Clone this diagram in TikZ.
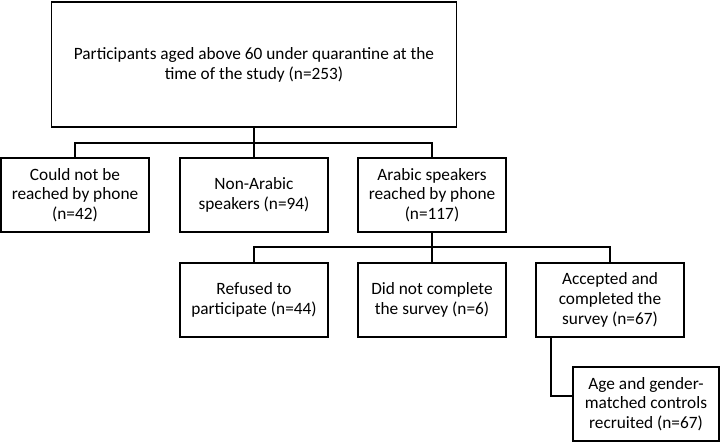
\documentclass[tikz,border=0pt]{standalone}
\usepackage{fontspec}
\setmainfont{Carlito}
\begin{document}
\begin{tikzpicture}[x=1pt,y=-1pt,
    box/.style={draw, line width=1.5pt, align=center, inner sep=0pt,
      minimum width=148pt, minimum height=74pt,
      font=\fontsize{17.3}{19.8}\selectfont},
    link/.style={draw, line width=1.5pt}]
  \useasboundingbox (0,0) rectangle (722,443);
  % boxes
  \node[box, minimum width=405pt, minimum height=125pt] (all) at (254,64.5)
    {Participants aged above 60 under quarantine at the\\time of the study (n=253)};
  \node[box] (noreach) at (75,195) {Could not be\\reached by phone\\(n=42)};
  \node[box] (nonarabic) at (254,195) {Non-Arabic\\speakers (n=94)};
  \node[box] (arabic) at (432,195) {Arabic speakers\\reached by phone\\(n=117)};
  \node[box] (refused) at (254,300) {Refused to\\participate (n=44)};
  \node[box] (incomplete) at (432,300) {Did not complete\\the survey (n=6)};
  \node[box] (accepted) at (610,300) {Accepted and\\completed the\\survey (n=67)};
  \node[box, minimum width=146pt] (controls) at (646,404) {Age and gender-\\matched controls\\recruited (n=67)};
  % connectors
  \coordinate (bar1) at (254,143);
  \coordinate (bar2) at (432,247);
  \draw[link] (all.south) -- (bar1);
  \draw[link] (noreach.north) |- (bar1) -| (arabic.north);
  \draw[link] (bar1) -- (nonarabic.north);
  \draw[link] (arabic.south) -- (bar2);
  \draw[link] (refused.north) |- (bar2) -| (accepted.north);
  \draw[link] (bar2) -- (incomplete.north);
  \draw[link] ([xshift=-59pt]accepted.south) |- ([yshift=8pt]controls.west);
\end{tikzpicture}
\end{document}
